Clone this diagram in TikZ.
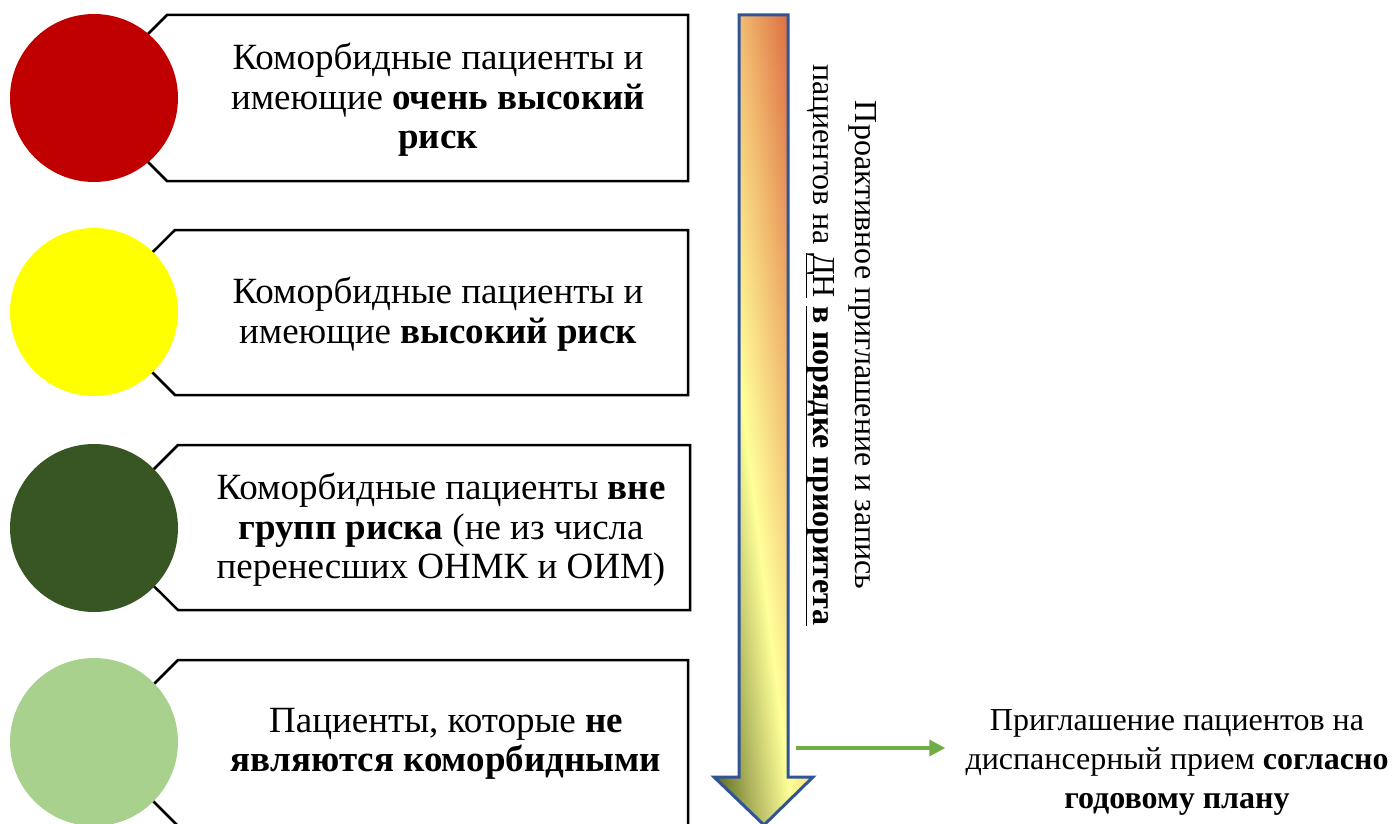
\documentclass[tikz,border=0pt]{standalone}
\usepackage{fontspec}
\setmainfont{Liberation Serif}
\usetikzlibrary{arrows.meta}

\definecolor{riskred}{HTML}{C00000}
\definecolor{riskyellow}{HTML}{FFFF00}
\definecolor{riskdark}{HTML}{375623}
\definecolor{risklight}{HTML}{A9D18E}
\definecolor{arrblue}{HTML}{2F5597}
\definecolor{arrgreen}{HTML}{70AD47}
\definecolor{arrolive}{HTML}{4B5B1C}
\definecolor{arrmoss}{HTML}{A8AE58}
\definecolor{arrpale}{HTML}{FFFF99}
\definecolor{arrorange}{HTML}{F0B46C}
\definecolor{arrred}{HTML}{D2452A}

\pgfdeclarehorizontalshading{arrowfade}{100bp}{color(0bp)=(arrolive); color(14.6bp)=(arrolive); color(28bp)=(arrmoss); color(43bp)=(arrpale); color(61bp)=(arrorange); color(85.4bp)=(arrred); color(100bp)=(arrred)}

\begin{document}
\begin{tikzpicture}[x=1pt,y=-1pt,
  boxline/.style={draw=black,line width=2.5pt,fill=white},
  riskdot/.style={circle,inner sep=0,minimum size=168pt},
  boxtext/.style={align=center,inner sep=0,font=\fontsize{37}{39.5}\selectfont},
  sidetext/.style={align=center,inner sep=0,font=\fontsize{32}{39}\selectfont}]

\useasboundingbox (0,0) rectangle (1394,824);

\begin{scope}

\clip (0,0) rectangle (1394,824);

% boxes
\draw [boxline] (167,15) -- (688,15) -- (688,181) -- (167,181) -- (84,98) -- cycle;
\draw [boxline] (175,230) -- (688,230) -- (688,395) -- (175,395) -- (92,312) -- cycle;
\draw [boxline] (178,445) -- (690,445) -- (690,610) -- (178,610) -- (95,528) -- cycle;
\draw [boxline] (178,660) -- (688,660) -- (688,826) -- (178,826) -- (95,743) -- cycle;

% circles
\node [riskdot,fill=riskred] (dotvhigh) at (94,98) {};
\node [riskdot,fill=riskyellow] (dothigh) at (94,312) {};
\node [riskdot,fill=riskdark] (dotmid) at (94,528) {};
\node [riskdot,fill=risklight] (dotlow) at (94,742) {};

\node [boxtext] (txtvhigh) at (438,100) {Коморбидные пациенты и\\имеющие \textbf{очень высокий}\\\textbf{риск}};
\node [boxtext] (txthigh) at (438,314) {Коморбидные пациенты и\\имеющие \textbf{высокий риск}};
\node [boxtext] (txtmid) at (441,530) {Коморбидные пациенты \textbf{вне}\\\textbf{групп риска} (не из числа\\перенесших ОНМК и ОИМ)};
\node [boxtext] (txtlow) at (446,744) {Пациенты, которые \textbf{не}\\\textbf{являются коморбидными}};

% big arrow
\begin{scope}
\clip (739,15) -- (788,15) -- (788,777) -- (813,777) -- (764,825) -- (714,777) -- (739,777) -- cycle;
\begin{scope}[transform canvas={shift={(714pt,-825pt)},xscale=0.99,yscale=8.10}]
\shade [shading=arrowfade,shading angle=45] (0pt,0pt) rectangle (100pt,100pt);
\end{scope}
\end{scope}
\draw [arrblue,line width=3pt,line join=miter] (739,15) -- (788,15) -- (788,777) -- (813,777) -- (764,825) -- (714,777) -- (739,777) -- cycle;

\node [sidetext,rotate=-90,font=\fontsize{32}{42}\selectfont] (priority) at (841,345) {Проактивное приглашение и запись\\пациентов на \underline{ДН} \underline{\textbf{в порядке приоритета}}};

\coordinate (gstart) at (796,748);
\node [sidetext] (invite) at (1177,762) {Приглашение пациентов на\\диспансерный прием \textbf{согласно}\\\textbf{годовому плану}};
\draw [arrgreen,line width=3.5pt,-{Triangle[length=16pt,width=16pt]}] (gstart) -- ([xshift=-20pt]invite.west |- gstart);

\end{scope}

\end{tikzpicture}
\end{document}
